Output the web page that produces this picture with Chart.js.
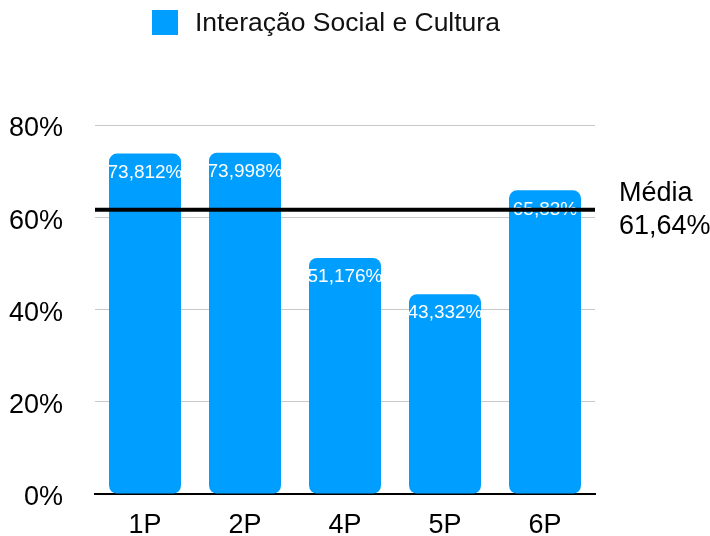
<!DOCTYPE html>
<html><head><meta charset="utf-8">
<script src="https://cdn.jsdelivr.net/npm/chart.js@4.4.1/dist/chart.umd.min.js"></script>
<style>html,body{margin:0;padding:0;background:#fff}#wrap{width:710px;height:536px}</style>
</head><body><div id="wrap"><canvas id="c" width="710" height="536"></canvas></div>
<script>
const categories = ["1P", "2P", "4P", "5P", "6P"];
const seriesLabel = "Interação Social e Cultura";
const values = [73.812, 73.998, 51.176, 43.332, 65.83];
const meanValue = [61.64];
const meanLabel = ["Média", "61,64%"];
const yTicks = [0, 20, 40, 60, 80];

const FONT = "'Liberation Sans', Arial, Helvetica, sans-serif";
const BLUE = "#009FFF";

const fmt = v => String(v).replace('.', ',') + '%';

const overlay = {
  id: 'overlay',
  afterDatasetsDraw(chart) {
    const ctx = chart.ctx;
    const meta = chart.getDatasetMeta(0);
    const y = chart.scales.y;
    const area = chart.chartArea;
    ctx.save();
    ctx.fillStyle = '#fff';
    ctx.font = '19px ' + FONT;
    ctx.textAlign = 'center';
    ctx.textBaseline = 'middle';
    meta.data.forEach((bar, i) => {
      ctx.fillText(fmt(values[i]), bar.x, bar.y + 19);
    });
    const my = y.getPixelForValue(meanValue[0]);
    ctx.strokeStyle = '#000';
    ctx.lineWidth = 4;
    ctx.beginPath();
    ctx.moveTo(area.left, my);
    ctx.lineTo(area.right, my);
    ctx.stroke();
    ctx.fillStyle = '#000';
    ctx.font = '27px ' + FONT;
    ctx.textAlign = 'left';
    ctx.fillText(meanLabel[0], 619, my - 16);
    ctx.fillText(meanLabel[1], 619, my + 17);
    ctx.fillStyle = BLUE;
    ctx.fillRect(152, 10, 26, 25);
    ctx.fillStyle = '#111';
    ctx.font = '26.5px ' + FONT;
    ctx.fillText(seriesLabel, 195, 24);
    ctx.restore();
  }
};

new Chart(document.getElementById('c'), {
  type: 'bar',
  data: {
    labels: categories,
    datasets: [{
      label: seriesLabel,
      data: values,
      backgroundColor: BLUE,
      borderRadius: 8,
      borderSkipped: false,
      categoryPercentage: 0.72,
      barPercentage: 1.0
    }]
  },
  options: {
    responsive: false,
    animation: false,
    layout: { padding: { top: 125, right: 115, left: 0, bottom: 0 } },
    plugins: { legend: { display: false }, tooltip: { enabled: false } },
    scales: {
      x: {
        grid: { display: false, drawTicks: false },
        border: { display: true, color: '#000', width: 2 },
        ticks: { color: '#000', font: { size: 27, family: FONT, lineHeight: 1 }, padding: 18 },
        afterFit(s) { s.height = 42; }
      },
      y: {
        min: 0, max: 80,
        afterBuildTicks(s) { s.ticks = yTicks.map(v => ({ value: v })); },
        grid: { color: c => c.tick && c.tick.value === 0 ? 'rgba(0,0,0,0)' : '#c8c8c8', lineWidth: 1, drawTicks: false },
        border: { display: false },
        ticks: { color: '#000', font: { size: 27, family: FONT, lineHeight: 0.3 }, padding: 32, labelOffset: 4, callback: v => v + '%' },
        afterFit(s) { s.width = 95; }
      }
    }
  },
  plugins: [overlay]
});
</script></body></html>
